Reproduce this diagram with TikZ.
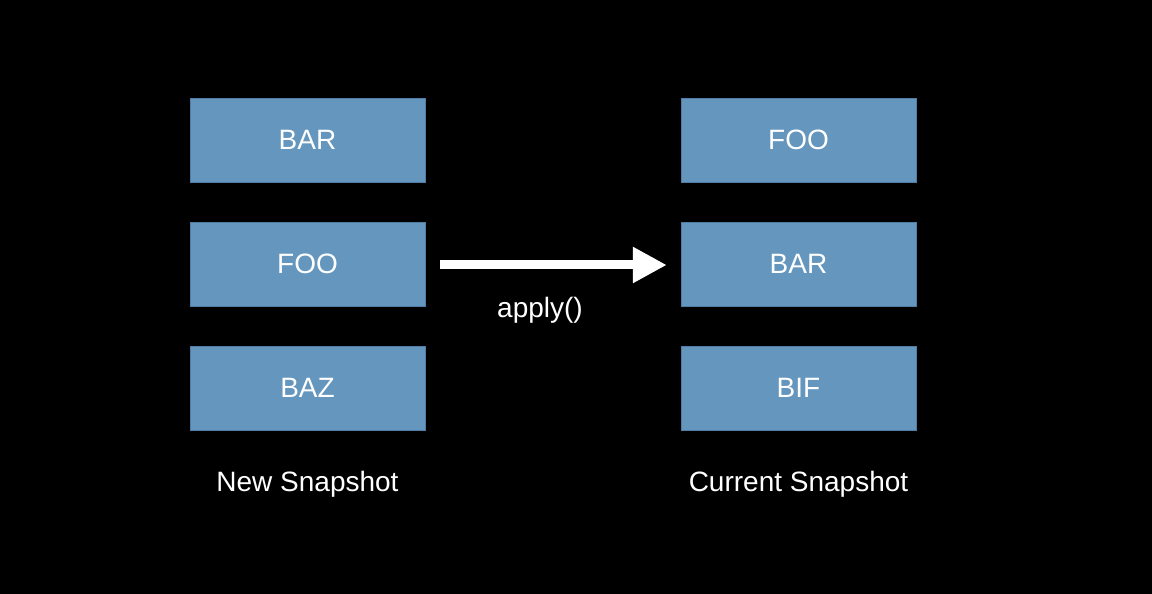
\documentclass[tikz,border=0pt]{standalone}
\usepackage{fontspec}
\setmainfont{Liberation Sans}
\usetikzlibrary{arrows.meta}
\definecolor{boxblue}{RGB}{100,150,190}
\definecolor{boxedge}{RGB}{80,125,165}
\tikzset{
  snap/.style={draw=boxedge, fill=boxblue, minimum width=235pt, minimum height=84pt,
    inner sep=0pt, text=white, font=\fontsize{28}{30}\selectfont},
  caption/.style={text=white, font=\fontsize{28}{30}\selectfont}
}
\begin{document}
\begin{tikzpicture}[x=1pt,y=1pt]
      \fill [black] (0,0) rectangle (1152,594);
      \useasboundingbox (0,0) rectangle (1152,594);

      \node [snap] (newbar) at (307.5,454) {BAR};
      \node [snap] (newfoo) at (307.5,330) {FOO};
      \node [snap] (newbaz) at (307.5,206) {BAZ};
      \node [caption] (newlabel) at (307.5,110) {New Snapshot};

      \node [snap] (curfoo) at (798.5,454) {FOO};
      \node [snap] (curbar) at (798.5,330) {BAR};
      \node [snap] (curbif) at (798.5,206) {BIF};
      \node [caption] (curlabel) at (798.5,110) {Current Snapshot};

      \draw [-{Triangle[length=34pt,width=34pt]}, white, line width=9pt,
        shorten <=15pt, shorten >=14pt] ([yshift=-1pt]newfoo.east) -- ([yshift=-1pt]curbar.west);
      \node [caption] (apply) at (540,284) {apply()};
    \end{tikzpicture}
\end{document}
